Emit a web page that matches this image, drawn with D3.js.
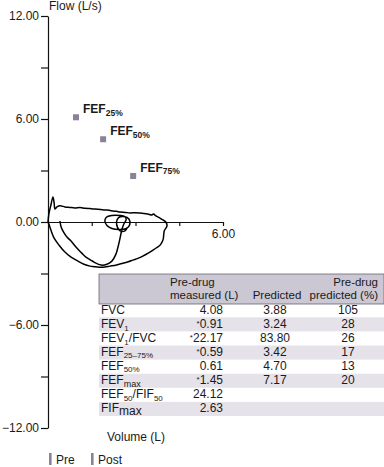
<!DOCTYPE html>
<html><head><meta charset="utf-8">
<script src="https://cdn.jsdelivr.net/npm/d3@7"></script>
<style>
html,body{margin:0;padding:0;background:#fff;}
svg{display:block;font-family:"Liberation Sans",Arial,Helvetica,sans-serif;}
</style></head>
<body><svg id="c" width="384" height="467"></svg>
<script>
// ---- data ----
const yTicks = [-12, -9, -6, -3, 0, 3, 6, 9, 12];
const yLabelled = [-12, -6, 0, 6, 12];
const xTicks = [1.5, 3, 4.5, 6];
const xLabelled = [6];
// outer forced loop: [volume L, flow L/s]
const loopOuter = [[0,0],[0.03,0.47],[0.10,0.99],[0.17,1.46],[0.21,1.11],[0.24,0.76],[0.31,0.88],[0.41,0.94],[0.58,0.88],[0.75,0.85],[0.92,0.82],[1.1,0.84],[1.27,0.80],[1.45,0.78],[1.61,0.76],[1.8,0.73],[1.95,0.70],[2.1,0.68],[2.23,0.64],[2.35,0.62],[2.47,0.58],[2.65,0.56],[2.81,0.53],[3.0,0.54],[3.15,0.52],[3.3,0.49],[3.42,0.47],[3.56,0.41],[3.62,0.47],[3.70,0.35],[3.84,0.23],[3.94,0.12],[4.04,0],[4.08,-0.23],[3.99,-0.50],[3.97,-0.70],[3.95,-1.0],[3.90,-1.2],[3.84,-1.35],[3.72,-1.5],[3.60,-1.64],[3.45,-1.80],[3.25,-1.99],[3.08,-2.12],[2.91,-2.22],[2.75,-2.32],[2.57,-2.40],[2.35,-2.50],[2.12,-2.57],[1.95,-2.62],[1.75,-2.63],[1.58,-2.60],[1.44,-2.57],[1.23,-2.46],[1.03,-2.28],[0.79,-2.05],[0.58,-1.75],[0.38,-1.35],[0.21,-0.94],[0.10,-0.47],[0.03,-0.12],[0,0]];
// inner loop
const loopInner = [[0.41,0.06],[0.45,-0.29],[0.55,-0.64],[0.65,-0.88],[0.79,-1.11],[0.99,-1.52],[1.15,-1.80],[1.30,-2.05],[1.45,-2.2],[1.58,-2.34],[1.82,-2.51],[2.02,-2.46],[2.19,-2.28],[2.33,-1.87],[2.40,-1.46],[2.47,-0.94],[2.53,-0.47],[2.60,-0.12],[2.68,0.15],[2.63,0.32],[2.47,0.38],[2.19,0.38],[2.0,0.28],[1.95,0.06],[2.02,-0.2],[2.19,-0.38],[2.47,-0.44],[2.69,-0.38],[2.80,-0.16],[2.78,0.16],[2.60,0.32],[2.42,0.26],[2.35,0],[2.38,-0.3],[2.47,-0.52],[2.64,-0.52],[2.72,-0.3]];
// FEF points
const fefNames = ["25%", "50%", "75%"];
const fefVolume = [0.96, 1.89, 2.92];
const fefFlow = [6.10, 4.82, 2.68];
// table
const params = ["FVC","FEV1","FEV1/FVC","FEF25–75%","FEF50%","FEFmax","FEF50/FIF50","FIFmax"];
const measured = ["4.08","*0.91","*22.17","*0.59","0.61","*1.45","24.12","2.63"];
const predicted = ["3.88","3.24","83.80","3.42","4.70","7.17","",""];
const pctPredicted = ["105","28","26","17","13","20","",""];
const legendItems = ["Pre", "Post"];

// ---- drawing ----
const svg = d3.select("#c");
const txt = "#1a1a1a", markC = "#8b8198";
const x = d3.scaleLinear().domain([0, 6]).range([48, 223]);
const y = d3.scaleLinear().domain([-12, 12]).range([428, 16]);

// y axis
const ya = svg.append("g").attr("transform", `translate(${x(0)},0)`)
  .call(d3.axisLeft(y).tickValues(yTicks).tickSize(7).tickSizeOuter(0).tickPadding(2)
    .tickFormat(d => yLabelled.includes(d) ? d3.format(".2f")(d) : ""));
ya.selectAll("text").attr("font-size", 12).attr("fill", txt).style("font-family", "inherit");
ya.selectAll("line,path").attr("stroke", "#111").attr("stroke-width", 1.2);

// x axis
const xa = svg.append("g").attr("transform", `translate(0,${y(0)})`)
  .call(d3.axisBottom(x).tickValues(xTicks).tickSize(4).tickSizeOuter(0).tickPadding(3)
    .tickFormat(d => xLabelled.includes(d) ? d3.format(".2f")(d) : ""));
xa.selectAll("text").attr("font-size", 12).attr("fill", txt).style("font-family", "inherit");
xa.selectAll("line,path").attr("stroke", "#111").attr("stroke-width", 1.2);

svg.append("text").attr("x", 49).attr("y", 10).attr("font-size", 12).attr("fill", txt).text("Flow (L/s)");

// loops
const line = d3.line().x(d => x(d[0])).y(d => y(d[1])).curve(d3.curveCatmullRom.alpha(0.5));
[loopOuter, loopInner].forEach(L => svg.append("path").attr("d", line(L))
  .attr("fill", "none").attr("stroke", "#000").attr("stroke-width", 1.5).attr("stroke-linejoin", "round"));

// FEF markers
fefNames.forEach((n, i) => {
  const cx = x(fefVolume[i]), cy = y(fefFlow[i]);
  svg.append("rect").attr("x", cx - 3).attr("y", cy - 3).attr("width", 6).attr("height", 6).attr("fill", markC);
  const t = svg.append("text").attr("x", cx + 7).attr("y", cy - 4).attr("font-weight", "bold").attr("fill", txt);
  t.append("tspan").attr("font-size", 12).text("FEF");
  t.append("tspan").attr("font-size", 8.5).attr("dy", 2.5).text(n);
});

// table
const tx = 99, tw = 285, headTop = 274, headH = 30, rowH = 14.1, firstBase = 313.5;
const tg = svg.append("g").attr("font-size", 12).attr("fill", txt);
tg.append("rect").attr("x", tx).attr("y", headTop).attr("width", tw).attr("height", headH)
  .attr("fill", "#cbc7d3").attr("stroke", "#6a6670").attr("stroke-width", 0.8);
params.forEach((p, i) => {
  if (i % 2 === 1) tg.append("rect").attr("x", tx).attr("y", firstBase + i * rowH - 10.3)
    .attr("width", tw).attr("height", rowH).attr("fill", "#e5e2ea");
});
// header text
const hg = tg.append("g").attr("font-size", 11.5);
hg.append("text").attr("x", 170).attr("y", 286).text("Pre-drug");
hg.append("text").attr("x", 170).attr("y", 299).text("measured (L)");
hg.append("text").attr("x", 277).attr("y", 299).attr("text-anchor", "middle").text("Predicted");
hg.append("text").attr("x", 378).attr("y", 286).attr("text-anchor", "end").text("Pre-drug");
hg.append("text").attr("x", 378).attr("y", 299).attr("text-anchor", "end").text("predicted (%)");

const markup = {
  "FVC": [["FVC"]],
  "FEV1": [["FEV"], ["1", 8, 3]],
  "FEV1/FVC": [["FEV"], ["1", 8, 3], ["/FVC"]],
  "FEF25–75%": [["FEF"], ["25–75%", 8, 2.5]],
  "FEF50%": [["FEF"], ["50%", 8, 2.5]],
  "FEFmax": [["FEF"], ["max", 9, 3]],
  "FEF50/FIF50": [["FEF"], ["50", 8, 2.5], ["/FIF"], ["50", 8, 2.5]],
  "FIFmax": [["FIF"], ["max", 12, 2.5]]
};
params.forEach((p, i) => {
  const b = firstBase + i * rowH;
  const t = tg.append("text").attr("x", 101).attr("y", b);
  let shift = 0;
  markup[p].forEach(part => {
    const s = t.append("tspan").text(part[0]);
    if (part[1]) { s.attr("font-size", part[1]).attr("dy", part[2] - shift); shift = part[2]; }
    else if (shift) { s.attr("dy", -shift); shift = 0; }
  });
  const m = measured[i];
  const mt = tg.append("text").attr("x", 223).attr("y", b).attr("text-anchor", "end");
  if (m.startsWith("*")) {
    mt.append("tspan").attr("font-size", 8).attr("dy", -2).text("*");
    mt.append("tspan").attr("dy", 2).text(m.slice(1));
  } else mt.text(m);
  tg.append("text").attr("x", 275).attr("y", b).attr("text-anchor", "middle").text(predicted[i]);
  tg.append("text").attr("x", 348).attr("y", b).attr("text-anchor", "middle").text(pctPredicted[i]);
});

svg.append("text").attr("x", 107).attr("y", 441).attr("font-size", 12).attr("fill", txt).text("Volume (L)");

// legend
const lx = [49, 91];
legendItems.forEach((l, i) => {
  svg.append("rect").attr("x", lx[i]).attr("y", 453).attr("width", 2.6).attr("height", 12).attr("fill", markC);
  svg.append("text").attr("x", lx[i] + 7).attr("y", 464).attr("font-size", 12).attr("fill", txt).text(l);
});
</script></body></html>
